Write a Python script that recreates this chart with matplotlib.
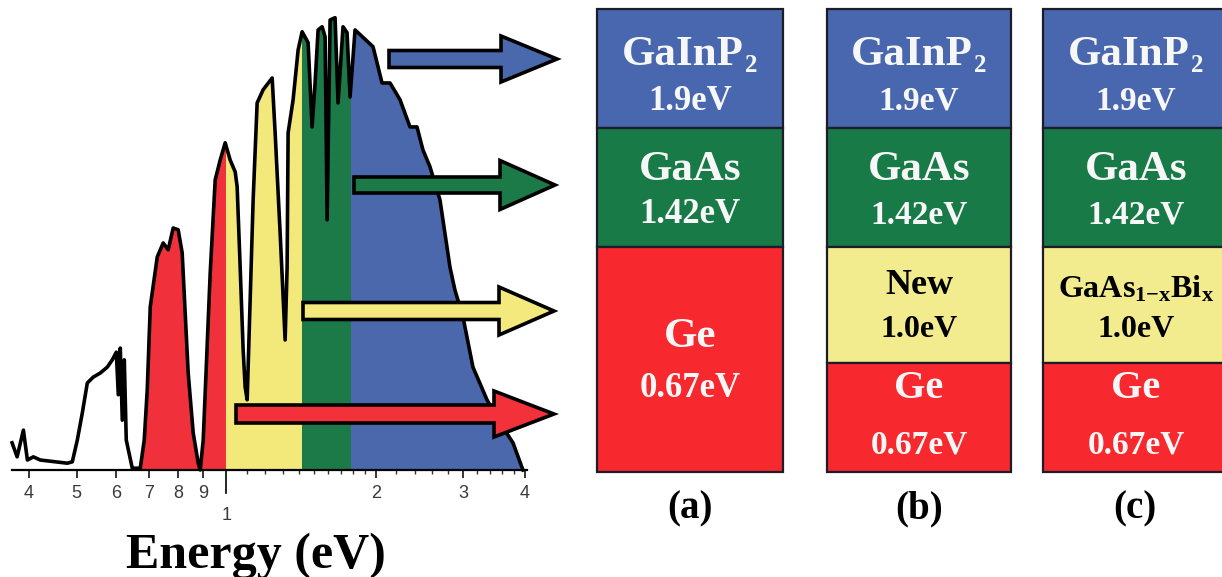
import numpy as np
import matplotlib
matplotlib.use("Agg")
import matplotlib.pyplot as plt
from matplotlib.patches import Rectangle, FancyArrow
from matplotlib.ticker import FixedLocator, NullFormatter

plt.rcParams['mathtext.fontset'] = 'custom'
plt.rcParams['mathtext.rm'] = 'Liberation Serif:bold'
plt.rcParams['mathtext.it'] = 'Liberation Serif:bold'
plt.rcParams['mathtext.bf'] = 'Liberation Serif:bold'

# ---------------- data ----------------
energy = [0.3705, 0.3793, 0.3905, 0.3978, 0.4089, 0.4224, 0.4787, 0.4899, 0.5014, 0.5132,
          0.5252, 0.5400, 0.5578, 0.5762, 0.5897, 0.6008, 0.6064, 0.6120, 0.6177, 0.6235,
          0.6292, 0.6470, 0.6622, 0.6714, 0.6839, 0.6935, 0.7032, 0.7264, 0.7467, 0.7642,
          0.7822, 0.8005, 0.8155, 0.8385, 0.8582, 0.8784, 0.8866, 0.8990, 0.9286, 0.9503,
          0.9726, 0.9954, 1.0187, 1.0426, 1.0522, 1.0670, 1.0819, 1.0920, 1.1022, 1.1176,
          1.1332, 1.1544, 1.1869, 1.2377, 1.2549, 1.2843, 1.3144, 1.3266, 1.3327, 1.3640,
          1.3961, 1.4222, 1.4622, 1.4894, 1.5103, 1.5315, 1.5603, 1.5822, 1.5969, 1.6192,
          1.6569, 1.6801, 1.7193, 1.7516, 1.7763, 1.8178, 1.9759, 2.0602, 2.1380, 2.2393,
          2.3455, 2.4226, 2.4909, 2.5731, 2.6951, 2.8226, 2.8888, 2.9981, 3.1404, 3.3513,
          3.5588, 3.7810, 3.9596]
intensity = [6.0, 2.9, 8.8, 2.2, 2.9, 2.2, 1.5, 1.8, 6.6, 12.6,
             19.2, 20.5, 21.4, 22.7, 24.3, 26.0, 16.6, 26.9, 11.0, 24.3,
             6.6, 0.4, 0.4, 0.4, 6.6, 17.7, 36.0, 47.0, 50.1, 48.6,
             53.4, 53.0, 47.9, 21.4, 8.2, 1.5, 0.0, 6.6, 43.5, 64.0,
             68.4, 72.2, 68.4, 65.8, 62.5, 44.8, 26.5, 18.3, 15.5, 37.5,
             59.6, 81.0, 83.9, 86.5, 74.4, 52.3, 28.7, 44.8, 74.4, 81.7,
             92.7, 96.7, 94.3, 75.7, 85.4, 97.1, 97.8, 95.6, 55.2, 99.3,
             99.8, 81.0, 97.8, 96.5, 82.3, 97.1, 93.4, 85.4, 85.4, 81.7,
             75.7, 75.7, 70.6, 66.9, 59.6, 44.8, 39.7, 33.8, 22.7, 15.5,
             10.4, 6.0, 0.0]

# band edges of the coloured spectrum parts (as drawn)
band_edges = [0.67, 1.0, 1.42, 1.78, 4.05]

major_ticks = [0.4, 0.5, 0.6, 0.7, 0.8, 0.9, 2, 3, 4]
major_labels = ['4', '5', '6', '7', '8', '9', '2', '3', '4']
minor_ticks = [1.1, 1.2, 1.3, 1.4, 1.5, 1.6, 1.7, 1.8, 1.9,
               2.2, 2.4, 2.6, 2.8, 3.2, 3.4, 3.6, 3.8]

# each material name: (main text, subscript-part text)
stack_a_names = [('GaInP', '2'), ('GaAs', ''), ('Ge', '')]
stack_a_gaps = ['1.9eV', '1.42eV', '0.67eV']
stack_b_names = [('GaInP', '2'), ('GaAs', ''), ('New', ''), ('Ge', '')]
stack_b_gaps = ['1.9eV', '1.42eV', '1.0eV', '0.67eV']
stack_c_names = [('GaInP', '2'), ('GaAs', ''), ('GaAs$_{1{-}x}$Bi$_x$', ''), ('Ge', '')]
stack_c_gaps = ['1.9eV', '1.42eV', '1.0eV', '0.67eV']
panel_labels = ['(a)', '(b)', '(c)']

# ---------------- styles ----------------
spec_colors = ['#f0303a', '#f3e87a', '#1b7a48', '#4a68ab']
BLUE, GREEN, YELLOW, RED = '#4867ae', '#187a47', '#f2ec8f', '#f8282f'
arrow_colors = ['#4a69ad', '#1b7a48', '#f3e97c', '#f2313b']

W, H = 1222, 577
fig = plt.figure(figsize=(W / 100, H / 100), dpi=100)
fig.patch.set_facecolor('white')
renderer = fig.canvas.get_renderer()


def add_px_axes(l, t, w, h, **kw):
    return fig.add_axes([l / W, 1 - (t + h) / H, w / W, h / H], **kw)


def fx(x):
    return x / W


def fy(y):
    return 1 - y / H


SERIF = 'Liberation Serif'


def text_width(s, size):
    t = fig.text(0, 0, s, family=SERIF, weight='bold', fontsize=size)
    w = t.get_window_extent(renderer).width
    t.remove()
    return w


# ---------------- spectrum ----------------
ax = add_px_axes(12, 10, 515, 460)
ax.set_xscale('log')
ax.set_xlim(0.3704, 4.035)
ax.set_ylim(0, 101.5)
ax.patch.set_visible(False)

for c, lo, hi in zip(spec_colors, band_edges[:-1], band_edges[1:]):
    poly = ax.fill_between(energy, intensity, 0, color=c, lw=0, zorder=1)
    clip = Rectangle((lo, 0), hi - lo, 200, transform=ax.transData)
    poly.set_clip_path(clip)

ax.plot(energy, intensity, color='black', lw=2.6, zorder=3, clip_on=False,
        solid_joinstyle='round')

for s in ['top', 'left', 'right']:
    ax.spines[s].set_visible(False)
ax.spines['bottom'].set_linewidth(1.6)
ax.spines['bottom'].set_zorder(4)

ax.xaxis.set_major_locator(FixedLocator(major_ticks))
ax.set_xticklabels(major_labels)
ax.xaxis.set_minor_locator(FixedLocator(minor_ticks))
ax.xaxis.set_minor_formatter(NullFormatter())
ax.tick_params(axis='x', which='major', length=6, width=1.1, pad=5,
               labelsize=13, labelcolor='#3a3a3a', color='black')
ax.tick_params(axis='x', which='minor', length=3, width=1.0, color='#333333')
for lab in ax.get_xticklabels():
    lab.set_family('Liberation Sans')
ax.set_yticks([])

# the tick at 1 eV: longer, label lower
ax.plot([1.0, 1.0], [0, -0.05], transform=ax.get_xaxis_transform(),
        clip_on=False, color='black', lw=1.2)
ax.text(1.0, -0.10, '1', transform=ax.get_xaxis_transform(), ha='center',
        va='center', fontsize=13, color='#3a3a3a', family='Liberation Sans')

fig.text(fx(256), fy(568), 'Energy (eV)', ha='center', va='baseline',
         family=SERIF, weight='bold', fontsize=36, color='black')

# ---------------- arrows ----------------
ov = fig.add_axes([0, 0, 1, 1], zorder=5)
ov.set_xlim(0, W)
ov.set_ylim(H, 0)
ov.axis('off')
# (tail x, tip x, centre y, shaft width, head width, head length) in pixels
arrow_geom = [(389, 557, 59, 17, 46, 56),
              (354, 555, 185, 16, 49, 55),
              (303, 554, 311, 17, 48, 55),
              (236, 554, 414, 18, 46, 60)]
for (x0, x1, yc, sw, hw, hl), col in zip(arrow_geom, arrow_colors):
    ov.add_patch(FancyArrow(x0, yc, x1 - x0, 0, width=sw, head_width=hw,
                            head_length=hl, length_includes_head=True,
                            facecolor=col, edgecolor='black', lw=2.6,
                            joinstyle='miter'))

# ---------------- cell stacks ----------------
mat_color = {'GaInP': BLUE, 'GaAs': GREEN, 'New': YELLOW,
             'GaAs$_{1{-}x}$Bi$_x$': YELLOW, 'Ge': RED}
columns = [
    dict(names=stack_a_names, gaps=stack_a_gaps, left=597, width=186,
         heights=[119, 119, 225],
         baselines=[(65, 110), (180, 223), (347, 397)],
         nsize=[31, 31, 31], gsize=[25, 25, 25], label_x=690),
    dict(names=stack_b_names, gaps=stack_b_gaps, left=827, width=184,
         heights=[119, 119, 116, 109],
         baselines=[(65, 110), (180, 223), (294, 337), (398, 453)],
         nsize=[31, 31, 26, 29], gsize=[24, 24, 23, 24], label_x=919),
    dict(names=stack_c_names, gaps=stack_c_gaps, left=1043, width=186,
         heights=[119, 119, 116, 109],
         baselines=[(65, 110), (180, 223), (298, 337), (398, 453)],
         nsize=[31, 31, 23, 29], gsize=[24, 24, 23, 24], label_x=1135),
]
TOP, TOTAL = 9, 463
SUB_SIZE, SUB_DROP, SUB_GAP = 18, 7, 1
for col, plab in zip(columns, panel_labels):
    cax = add_px_axes(col['left'], TOP, col['width'], TOTAL)
    cax.set_xlim(0, 1)
    cax.set_ylim(TOTAL, 0)
    cax.axis('off')
    hts = np.array(col['heights'])
    bottoms = np.concatenate([[0], np.cumsum(hts)[:-1]])
    colors = [mat_color[n[0]] for n in col['names']]
    bars = cax.bar([0.5] * len(hts), hts, width=1.0, bottom=bottoms,
                   color=colors, edgecolor='#1d1d2a', linewidth=1.6)
    for b in bars:
        b.set_clip_on(False)
    cx = col['left'] + col['width'] / 2
    for (name, sub), gap, (nb, gb), ns, gs, c in zip(col['names'], col['gaps'],
                                                     col['baselines'], col['nsize'],
                                                     col['gsize'], colors):
        tc = 'black' if c == YELLOW else '#f7f7f7'
        if sub:
            wm = text_width(name, ns)
            ws = text_width(sub, SUB_SIZE)
            x0 = cx - (wm + ws + SUB_GAP) / 2
            fig.text(fx(x0), fy(nb), name, ha='left', va='baseline',
                     family=SERIF, weight='bold', fontsize=ns, color=tc, zorder=6)
            fig.text(fx(x0 + wm + SUB_GAP), fy(nb + SUB_DROP), sub, ha='left',
                     va='baseline', family=SERIF, weight='bold',
                     fontsize=SUB_SIZE, color=tc, zorder=6)
        else:
            fig.text(fx(cx), fy(nb), name, ha='center', va='baseline',
                     family=SERIF, weight='bold', fontsize=ns, color=tc, zorder=6)
        fig.text(fx(cx), fy(gb), gap, ha='center', va='baseline',
                 family=SERIF, weight='bold', fontsize=gs, color=tc, zorder=6)
    fig.text(fx(col['label_x']), fy(518), plab, ha='center', va='baseline',
             family=SERIF, weight='bold', fontsize=28, color='black')

fig.savefig('out.png', dpi=100, facecolor='white')
